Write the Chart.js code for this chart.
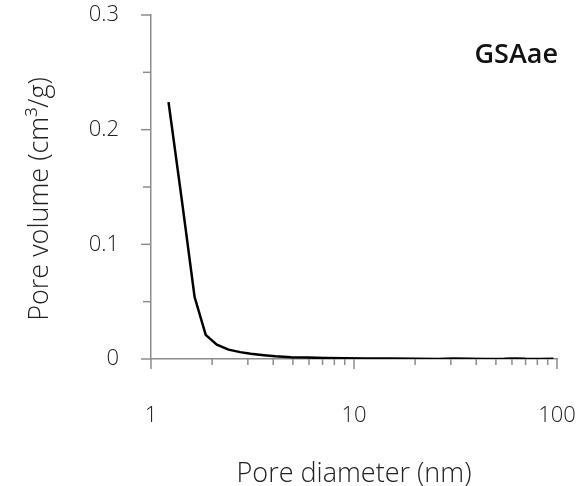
<!DOCTYPE html>
<html>
<head>
<meta charset="utf-8">
<script src="https://cdn.jsdelivr.net/npm/chart.js@4.4.1/dist/chart.umd.min.js"></script>
<style>
  html, body { margin: 0; padding: 0; background: #ffffff; }
  #wrap { width: 577px; height: 486px; }
</style>
</head>
<body>
<div id="wrap"><canvas id="c" width="577" height="486"></canvas></div>
<script>
// ---- data ----
const poreDiameter = [1.22, 1.43, 1.64, 1.86, 2.11, 2.41, 2.75, 3.1, 3.6, 4.1, 4.9, 5.9, 7.2, 9.0, 11.5, 15, 20, 26, 31, 37, 45, 55, 62, 70, 82, 96];
const poreVolume   = [0.224, 0.134, 0.054, 0.021, 0.0125, 0.0082, 0.006, 0.0045, 0.0033, 0.0024, 0.0016, 0.0012, 0.0009, 0.0006, 0.0005, 0.0005, 0.0002, 0.0001, 0.0004, 0.0003, 0.0001, 0.0002, 0.0005, 0.0002, 0.0001, 0.0002];
const xTickValues  = [1, 2, 3, 4, 5, 6, 7, 8, 9, 10, 20, 30, 40, 50, 60, 70, 80, 90, 100];
const xTickLabels  = ['1', '10', '100'];
const yTickValues  = [0, 0.05, 0.1, 0.15, 0.2, 0.25, 0.3];
const yTickLabels  = ['0', '0.1', '0.2', '0.3'];
const seriesName   = 'GSAae';
const xTitle       = 'Pore diameter (nm)';
const yTitle       = 'Pore volume (cm³/g)';

const FONT = "'Open Sans', 'Noto Sans', sans-serif";
const AXIS_COLOR = '#8c8c8c';
const TRANSPARENT = 'rgba(0,0,0,0)';

function isLabelled(v, labels) {
  return labels.some(l => Math.abs(parseFloat(l) - v) < 1e-9);
}

// visible tick marks: long for labelled ticks, short for the others
const tickMarks = {
  id: 'tickMarks',
  beforeDatasetsDraw(chart) {
    const ctx = chart.ctx;
    const xs = chart.scales.x, ys = chart.scales.y;
    ctx.save();
    ctx.strokeStyle = AXIS_COLOR;
    ctx.lineWidth = 1.5;
    xs.ticks.forEach(t => {
      const px = xs.getPixelForValue(t.value);
      const len = isLabelled(t.value, xTickLabels) ? 10 : 6;
      ctx.beginPath();
      ctx.moveTo(px, xs.top);
      ctx.lineTo(px, xs.top + len);
      ctx.stroke();
    });
    ys.ticks.forEach(t => {
      const py = ys.getPixelForValue(t.value);
      const len = isLabelled(t.value, yTickLabels) ? 10 : 8;
      ctx.beginPath();
      ctx.moveTo(ys.right, py);
      ctx.lineTo(ys.right - len, py);
      ctx.stroke();
    });
    ctx.restore();
  }
};

// axis titles and series label
const textLabels = {
  id: 'textLabels',
  afterDraw(chart) {
    const ctx = chart.ctx;
    const a = chart.chartArea;
    ctx.save();
    ctx.fillStyle = '#222222';
    ctx.font = "350 27px " + FONT;
    ctx.textAlign = 'center';
    ctx.textBaseline = 'alphabetic';
    ctx.fillText(xTitle, (a.left + a.right) / 2, 482);
    ctx.translate(48, 199);
    ctx.rotate(-Math.PI / 2);
    ctx.fillText(yTitle, 0, 0);
    ctx.restore();
    ctx.save();
    ctx.fillStyle = '#111111';
    ctx.font = "600 27px " + FONT;
    ctx.textAlign = 'right';
    ctx.textBaseline = 'alphabetic';
    ctx.fillText(seriesName, a.right + 1, 63);
    ctx.restore();
  }
};

new Chart(document.getElementById('c'), {
  type: 'line',
  data: {
    datasets: [{
      label: seriesName,
      data: poreDiameter.map((d, i) => ({ x: d, y: poreVolume[i] })),
      borderColor: '#000000',
      borderWidth: 2.5,
      pointRadius: 0,
      tension: 0,
      fill: false
    }]
  },
  options: {
    responsive: false,
    animation: false,
    layout: { padding: { left: 0, top: 15, right: 20, bottom: 0 } },
    plugins: { legend: { display: false }, tooltip: { enabled: false } },
    scales: {
      x: {
        type: 'logarithmic',
        min: 1, max: 100,
        afterBuildTicks(scale) { scale.ticks = xTickValues.map(v => ({ value: v })); },
        afterFit(scale) { scale.height = 127; },
        grid: { display: true, drawOnChartArea: false, drawTicks: true, tickLength: 44, tickColor: TRANSPARENT },
        border: { display: true, color: AXIS_COLOR, width: 1.5 },
        ticks: {
          autoSkip: false, maxRotation: 0, padding: 0,
          color: '#222222', font: { family: FONT, size: 22, weight: '350' },
          callback(v) { return isLabelled(v, xTickLabels) ? String(v) : ''; }
        }
      },
      y: {
        type: 'linear',
        min: 0, max: 0.3,
        afterBuildTicks(scale) { scale.ticks = yTickValues.map(v => ({ value: v })); },
        afterFit(scale) { scale.width = 151; },
        grid: { display: true, drawOnChartArea: false, drawTicks: true, tickLength: 32, tickColor: TRANSPARENT },
        border: { display: true, color: AXIS_COLOR, width: 1.5 },
        ticks: {
          autoSkip: false, padding: 0,
          color: '#222222', font: { family: FONT, size: 22, weight: '350' },
          callback(v) { return isLabelled(v, yTickLabels) ? String(+v.toFixed(2)) : ''; }
        }
      }
    }
  },
  plugins: [tickMarks, textLabels]
});
</script>
</body>
</html>
